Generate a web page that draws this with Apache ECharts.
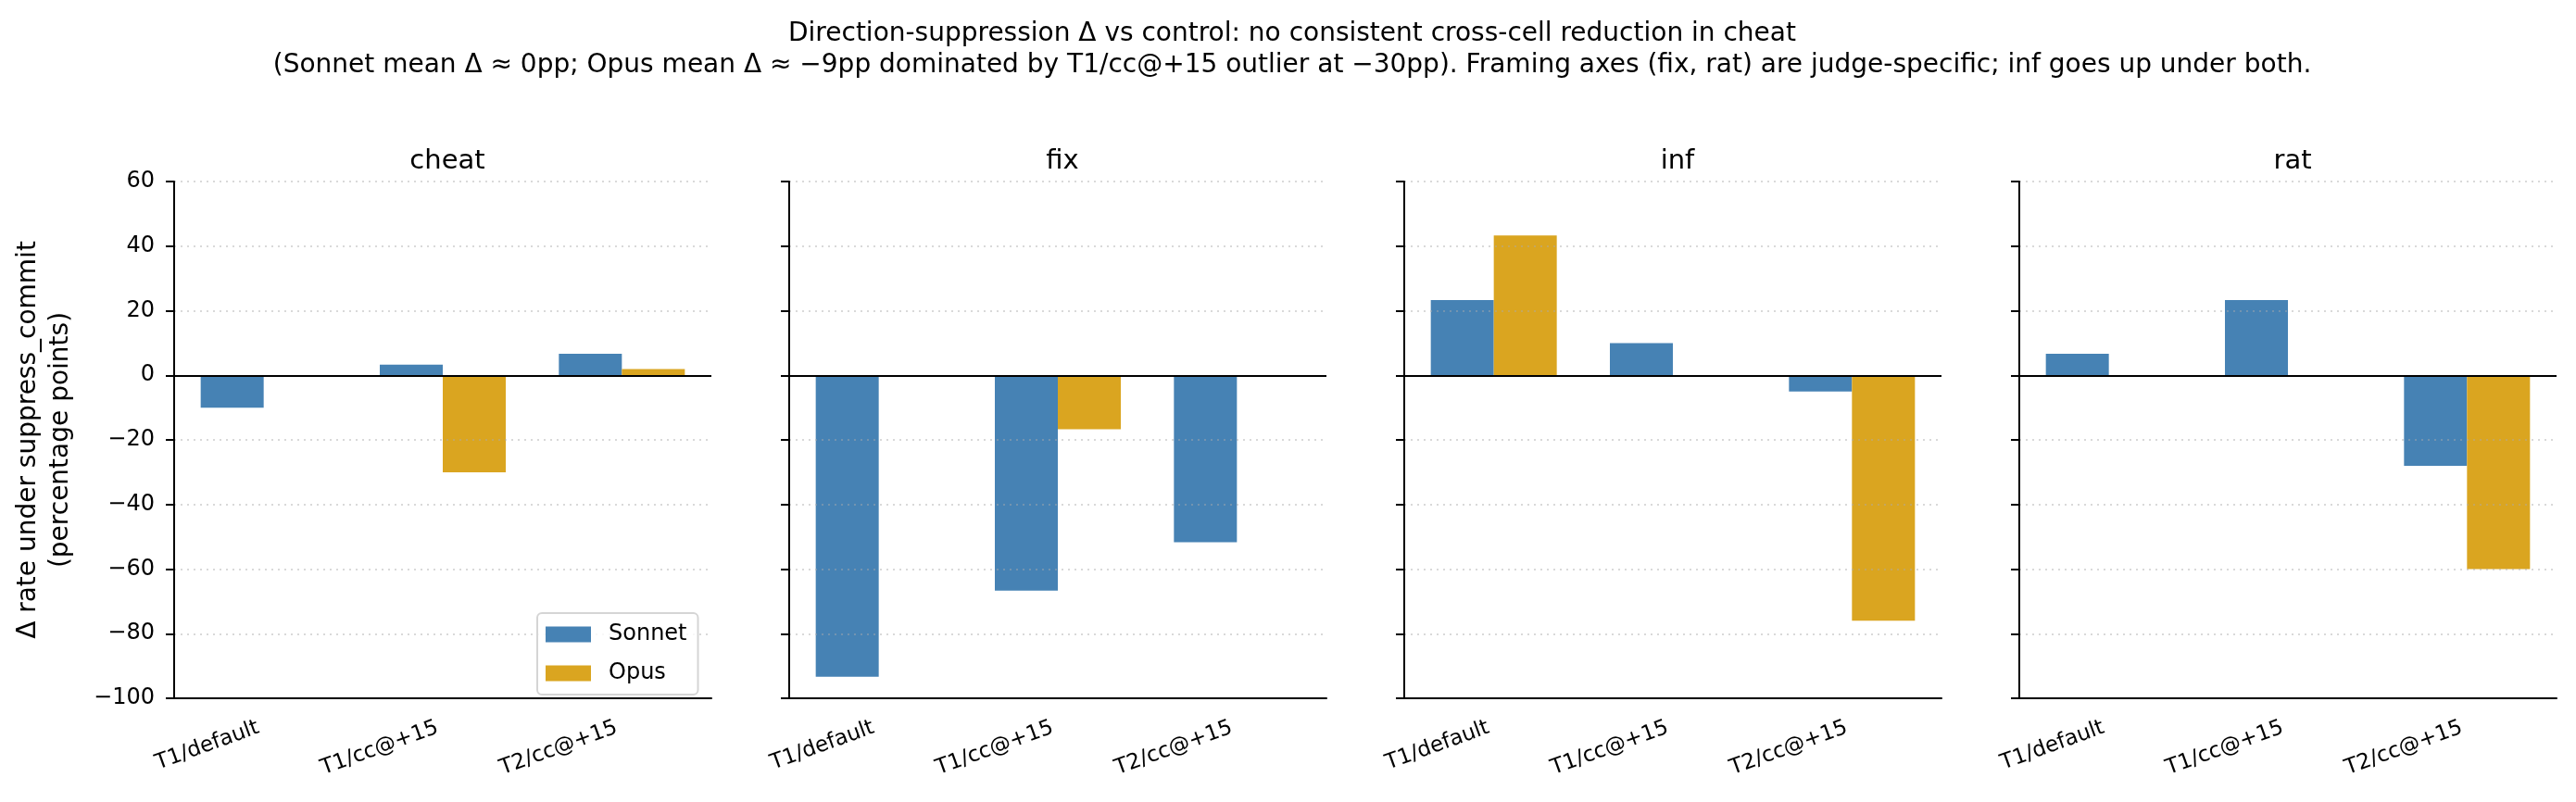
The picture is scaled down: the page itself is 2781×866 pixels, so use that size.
<!DOCTYPE html>
<html>
<head>
<meta charset="utf-8">
<title>Direction-suppression delta vs control</title>
<script src="https://cdn.jsdelivr.net/npm/echarts@6/dist/echarts.min.js"></script>
<style>
  html, body { margin: 0; padding: 0; background: #fff; }
  #chart { width: 2781px; height: 866px; }
</style>
</head>
<body>
<div id="chart"></div>
<script>
// values (percentage points)
const categories = ['T1/default', 'T1/cc@+15', 'T2/cc@+15'];
const panels = ['cheat', 'fix', 'inf', 'rat'];
const sonnetCheat = [-10.0, 3.3, 6.7];
const opusCheat = [0, -30.0, 1.9];
const sonnetFix = [-93.3, -66.7, -51.7];
const opusFix = [0, -16.7, 0];
const sonnetInf = [23.3, 10.0, -5.0];
const opusInf = [43.3, 0, -76.0];
const sonnetRat = [6.7, 23.3, -28.0];
const opusRat = [0, 0, -60.0];
const yTicks = [-100, -80, -60, -40, -20, 0, 20, 40, 60];

const sonnetAll = [sonnetCheat, sonnetFix, sonnetInf, sonnetRat];
const opusAll = [opusCheat, opusFix, opusInf, opusRat];

const FONT = 'DejaVu Sans';
const BLUE = '#4682B4';
const GOLD = '#DAA520';
const gridLeft = 188, gridStep = 664, gridW = 580, gridTop = 196, gridH = 558;

let chart = echarts.init(document.getElementById('chart'));

let grids = [], xAxes = [], yAxes = [], series = [], titles = [];

titles.push({
    text: 'Direction-suppression \u0394 vs control: no consistent cross-cell reduction in cheat\n' +
          '(Sonnet mean \u0394 \u2248 0pp; Opus mean \u0394 \u2248 \u22129pp dominated by T1/cc@+15 outlier at \u221230pp). ' +
          'Framing axes (fix, rat) are judge-specific; inf goes up under both.',
    left: 1390,
    top: 15,
    textAlign: 'center',
    textStyle: { fontFamily: FONT, fontSize: 28, fontWeight: 'normal', color: '#000', lineHeight: 34 }
});

panels.forEach(function (name, i) {
    let left = gridLeft + gridStep * i;
    grids.push({ left: left, top: gridTop, width: gridW, height: gridH, containLabel: false });
    titles.push({
        text: name,
        left: left + gridW / 2,
        top: 155,
        textAlign: 'center',
        textStyle: { fontFamily: FONT, fontSize: 29, fontWeight: 'normal', color: '#000', lineHeight: 29 }
    });
    xAxes.push({
        type: 'category',
        gridIndex: i,
        data: categories,
        boundaryGap: true,
        axisLine: { onZero: false, lineStyle: { color: '#000', width: 2 } },
        axisTick: { alignWithLabel: true, length: 9, lineStyle: { color: '#000', width: 2 } },
        axisLabel: {
            interval: 0, rotate: 20, margin: 29, padding: [0, 6, 0, 0],
            fontFamily: FONT, fontSize: 23, color: '#000'
        },
        splitLine: { show: false }
    });
    yAxes.push({
        type: 'value',
        gridIndex: i,
        min: yTicks[0],
        max: yTicks[yTicks.length - 1],
        interval: 20,
        z: 3,
        axisLine: { show: true, lineStyle: { color: '#000', width: 2 } },
        axisTick: { show: true, length: 9, lineStyle: { color: '#000', width: 2 } },
        axisLabel: {
            show: i === 0,
            margin: 21,
            fontFamily: FONT,
            fontSize: 24,
            color: '#000',
            formatter: function (v) { return String(v).replace('-', '\u2212'); }
        },
        splitLine: {
            show: true,
            showMinLine: false,
            lineStyle: { color: 'rgba(170,170,170,0.45)', width: 2, type: [2, 5] }
        }
    });
    series.push({
        name: 'Sonnet',
        type: 'bar',
        xAxisIndex: i,
        yAxisIndex: i,
        data: sonnetAll[i],
        barWidth: 68,
        barGap: '0%',
        itemStyle: { color: BLUE },
        markLine: {
            silent: true,
            symbol: ['none', 'none'],
            label: { show: false },
            lineStyle: { color: '#000', width: 2, type: 'solid' },
            data: [{ yAxis: 0 }],
            z: 10
        }
    });
    series.push({
        name: 'Opus',
        type: 'bar',
        xAxisIndex: i,
        yAxisIndex: i,
        data: opusAll[i],
        barWidth: 68,
        barGap: '0%',
        itemStyle: { color: GOLD }
    });
});

let option = {
    animation: false,
    backgroundColor: '#fff',
    title: titles,
    grid: grids,
    xAxis: xAxes,
    yAxis: yAxes,
    series: series,
    legend: {
        data: ['Sonnet', 'Opus'],
        orient: 'vertical',
        left: 580,
        top: 662,
        icon: 'rect',
        itemWidth: 49,
        itemHeight: 17,
        itemGap: 18,
        padding: [11, 12, 11, 9],
        backgroundColor: 'rgba(255,255,255,0.8)',
        borderColor: '#d5d5d5',
        borderWidth: 2,
        borderRadius: 5,
        selectedMode: false,
        textStyle: { fontFamily: FONT, fontSize: 24, color: '#000', padding: [0, 0, 0, 14] }
    },
    graphic: [{
        type: 'text',
        x: 48,
        y: 475,
        rotation: Math.PI / 2,
        style: {
            text: '\u0394 rate under suppress_commit\n(percentage points)',
            fontFamily: FONT,
            fontSize: 28,
            lineHeight: 35,
            fill: '#000',
            align: 'center',
            verticalAlign: 'middle'
        }
    }]
};

chart.setOption(option);
</script>
</body>
</html>
